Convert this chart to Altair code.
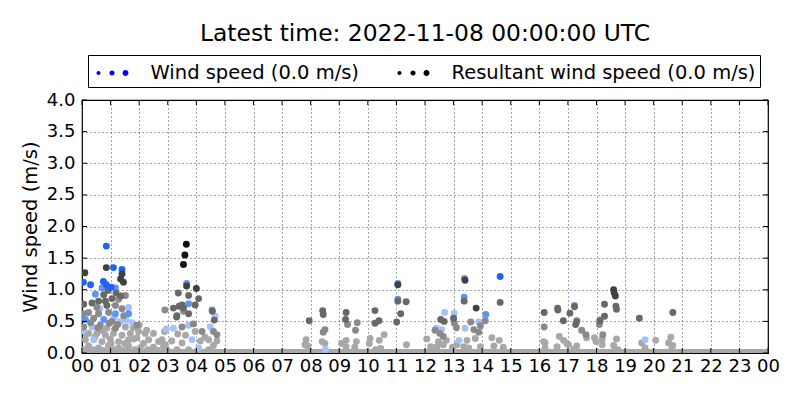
import altair as alt
import pandas as pd

# ---- data ----
pts = [
    # 00-05 h
    (0.85, 1.69, "b1"), (3.65, 1.72, "k1"), (3.60, 1.55, "k1"), (3.55, 1.40, "k1"),
    (0.10, 1.27, "k2"), (0.85, 1.35, "k2"), (1.10, 1.35, "b1"), (1.40, 1.32, "b1"),
    (1.40, 1.25, "k2"), (1.35, 1.17, "k2"), (1.45, 1.12, "k2"), (0.05, 1.12, "b1"),
    (0.30, 1.08, "b1"), (0.75, 1.13, "b1"), (0.85, 1.08, "b1"), (0.70, 1.03, "b2"),
    (1.02, 1.04, "b1"), (1.17, 1.03, "b2"), (0.91, 0.99, "k3"), (1.19, 0.95, "k3"),
    (1.36, 0.90, "k3"), (0.76, 0.92, "k3"), (0.47, 0.93, "b2"), (0.58, 0.82, "k3"),
    (0.82, 0.82, "k3"), (1.05, 0.86, "k3"), (1.28, 0.85, "k4"), (1.52, 0.91, "k4"),
    (0.06, 0.77, "k3"), (0.35, 0.79, "k3"), (0.52, 0.72, "k4"), (0.87, 0.75, "k3"),
    (1.17, 0.75, "k4"), (1.40, 0.70, "k4"), (1.63, 0.72, "b3"), (1.63, 0.62, "b2"),
    (0.23, 0.64, "k4"), (0.58, 0.62, "k4"), (0.93, 0.64, "k4"), (1.17, 0.62, "b2"),
    (1.46, 0.59, "k4"), (0.12, 0.53, "b2"), (0.41, 0.55, "k4"), (0.76, 0.53, "b2"),
    (1.05, 0.50, "k4"), (1.34, 0.50, "b3"), (1.75, 0.48, "b3"), (1.92, 0.44, "k4"),
    (0.06, 0.41, "k4"), (0.35, 0.41, "b3"), (0.64, 0.44, "k4"), (0.87, 0.39, "k5"),
    (1.17, 0.39, "k4"), (1.52, 0.41, "k5"),
    (0.23, 0.31, "k5"), (0.52, 0.31, "k5"), (0.82, 0.28, "k5"), (1.10, 0.31, "k5"),
    (1.40, 0.28, "k5"), (1.69, 0.31, "k5"), (1.98, 0.34, "k5"), (2.21, 0.31, "k5"),
    (2.50, 0.31, "k5"), (0.12, 0.21, "k5"), (0.70, 0.18, "k5"), (0.99, 0.22, "k5"),
    (1.28, 0.18, "k5"), (1.63, 0.21, "k5"), (1.92, 0.24, "k5"), (2.33, 0.21, "k5"),
    (2.68, 0.18, "k5"), (0.23, 0.11, "k5"), (0.58, 0.08, "k5"), (0.93, 0.12, "k5"),
    (1.28, 0.08, "k5"), (1.63, 0.11, "k5"), (2.04, 0.08, "k5"), (2.50, 0.09, "k5"),
    (2.85, 0.11, "k5"), (0.41, 0.21, "b3"), (2.00, 0.44, "k5"), (2.26, 0.36, "k5"),
    (1.79, 0.40, "k5"),
    (0.05, 0.62, "k4"), (0.30, 0.48, "k4"), (0.55, 0.40, "k4"), (0.95, 0.47, "k4"),
    (1.25, 0.45, "k4"), (0.15, 0.30, "k5"), (0.45, 0.25, "k5"), (0.72, 0.35, "k5"),
    (1.02, 0.15, "k5"), (1.50, 0.15, "k5"), (1.80, 0.22, "k5"), (2.15, 0.15, "k5"),
    (0.08, 0.05, "k5"), (0.40, 0.05, "k5"), (0.75, 0.04, "k5"), (1.10, 0.05, "k5"),
    (1.45, 0.04, "k5"), (1.85, 0.05, "k5"), (2.30, 0.05, "k5"), (2.65, 0.04, "k5"),
    (0.02, 0.35, "b3"), (0.62, 0.70, "b3"), (1.12, 0.56, "b3"), (1.55, 0.52, "b3"),
    (2.90, 0.68, "k4"), (3.20, 0.71, "k3"), (2.95, 0.38, "b3"), (3.31, 0.57, "k3"),
    (3.37, 0.95, "k3"), (3.55, 0.71, "k3"), (3.66, 1.10, "b2"), (3.66, 1.06, "k2"),
    (4.00, 1.02, "k2"), (3.73, 0.91, "k3"), (4.08, 0.86, "k3"), (3.50, 0.76, "k3"),
    (3.73, 0.78, "b2"), (3.96, 0.76, "k3"), (3.40, 0.74, "k3"), (3.32, 0.59, "k3"),
    (3.55, 0.66, "k4"), (3.73, 0.62, "k3"), (4.55, 0.68, "b2"), (4.56, 0.66, "k3"),
    (4.66, 0.58, "b3"), (4.63, 0.52, "k3"),
    (2.89, 0.34, "k5"), (3.20, 0.39, "b3"), (3.50, 0.41, "k4"), (3.73, 0.44, "b3"),
    (3.90, 0.46, "k4"), (3.96, 0.34, "k5"), (4.20, 0.34, "k4"), (4.49, 0.41, "b3"),
    (4.60, 0.34, "k4"), (4.72, 0.29, "k4"), (4.72, 0.19, "k5"), (4.43, 0.21, "k5"),
    (4.14, 0.19, "k5"), (3.85, 0.21, "b3"), (3.50, 0.16, "k5"), (3.14, 0.19, "k5"),
    (2.91, 0.13, "k5"), (2.97, 0.05, "k5"), (3.32, 0.05, "k5"), (3.73, 0.05, "k5"),
    (4.08, 0.08, "b3"), (4.43, 0.05, "k5"), (2.80, 0.21, "k5"),
    (3.35, 0.30, "k5"), (3.62, 0.28, "k5"), (4.30, 0.25, "k5"), (4.60, 0.12, "k5"),
    # 07-15 h
    (11.05, 1.10, "b2"), (11.05, 1.08, "k2"), (11.05, 0.85, "b2"), (11.05, 0.82, "k3"),
    (11.34, 0.81, "k3"), (11.15, 0.62, "k3"), (11.01, 0.49, "k3"), (10.25, 0.67, "k3"),
    (10.39, 0.51, "k3"), (10.25, 0.47, "k3"), (7.95, 0.51, "k3"), (8.42, 0.67, "k3"),
    (8.44, 0.61, "k3"), (8.50, 0.37, "k4"), (8.44, 0.33, "k4"), (8.40, 0.18, "k5"),
    (8.50, 0.15, "k5"), (8.52, 0.05, "b3"), (7.84, 0.21, "k5"), (7.80, 0.13, "k5"),
    (7.90, 0.11, "k5"), (9.24, 0.64, "k3"), (9.22, 0.53, "k3"), (9.29, 0.45, "k4"),
    (9.63, 0.48, "k4"), (9.57, 0.36, "k4"), (9.24, 0.20, "k5"), (9.08, 0.15, "k5"),
    (9.60, 0.18, "k5"), (9.54, 0.09, "k5"), (9.24, 0.10, "k5"), (10.08, 0.23, "k5"),
    (10.05, 0.15, "k5"), (10.40, 0.20, "k5"), (10.57, 0.29, "k5"), (10.45, 0.07, "k5"),
    (10.27, 0.05, "k5"), (11.35, 0.13, "k5"), (12.06, 0.22, "k5"), (12.20, 0.10, "k5"),
    (12.42, 0.10, "k5"), (12.35, 0.36, "k4"), (12.40, 0.39, "b3"), (12.58, 0.37, "b3"),
    (12.52, 0.31, "k4"), (12.64, 0.26, "k4"), (12.75, 0.20, "k5"), (12.64, 0.13, "k5"),
    (12.47, 0.18, "k5"), (12.55, 0.53, "k3"), (12.67, 0.50, "k3"), (12.69, 0.64, "b3"),
    (13.02, 0.63, "b3"), (13.00, 0.55, "k3"), (13.03, 0.47, "k4"), (13.10, 0.40, "k4"),
    (13.19, 0.20, "b3"), (13.12, 0.13, "k5"), (13.38, 1.18, "b2"), (13.40, 1.15, "k2"),
    (13.37, 0.88, "b2"), (13.37, 0.82, "k3"), (13.79, 0.71, "k2"), (13.40, 0.39, "b3"),
    (13.60, 0.49, "k4"), (13.71, 0.37, "k4"), (13.88, 0.49, "b3"), (13.94, 0.43, "k4"),
    (14.11, 0.51, "k4"), (14.13, 0.61, "b2"), (13.88, 0.33, "k4"), (13.76, 0.23, "k5"),
    (13.47, 0.20, "k5"), (13.53, 0.08, "k5"), (13.94, 0.10, "k5"), (13.36, 0.10, "k5"),
    (12.96, 0.09, "k5"), (14.63, 1.21, "b1"), (14.63, 0.80, "k3"), (14.34, 0.24, "k5"),
    (14.60, 0.20, "k5"), (14.41, 0.11, "k5"), (14.74, 0.09, "k5"),
    # 16-21 h
    (16.17, 0.64, "k3"), (16.17, 0.41, "k4"), (16.15, 0.18, "k5"), (16.20, 0.16, "k5"),
    (16.20, 0.08, "k5"), (16.64, 0.71, "k3"), (16.65, 0.68, "k3"), (16.84, 0.51, "k3"),
    (16.70, 0.26, "k5"), (16.85, 0.20, "k5"), (16.96, 0.15, "k5"), (16.62, 0.10, "k5"),
    (17.07, 0.63, "k3"), (17.23, 0.75, "b2"), (17.23, 0.73, "k3"), (17.31, 0.52, "b3"),
    (17.31, 0.50, "k3"), (17.27, 0.45, "k3"), (17.48, 0.36, "k4"), (17.63, 0.29, "k4"),
    (17.65, 0.24, "k5"), (17.31, 0.11, "k5"), (17.21, 0.06, "k5"), (17.02, 0.13, "k5"),
    (18.60, 1.00, "k2"), (18.62, 0.95, "k2"), (18.66, 0.90, "k2"), (18.68, 0.74, "k3"),
    (18.70, 0.69, "k3"), (18.28, 0.77, "k3"), (18.28, 0.58, "k3"), (18.12, 0.53, "b3"),
    (18.12, 0.51, "k3"), (18.10, 0.45, "k4"), (17.93, 0.24, "k5"), (18.22, 0.29, "k4"),
    (18.20, 0.22, "k5"), (18.20, 0.13, "k5"), (17.98, 0.18, "k5"), (18.70, 0.22, "k5"),
    (18.60, 0.12, "k5"), (18.75, 0.05, "k5"), (19.50, 0.55, "k3"), (19.70, 0.21, "b3"),
    (19.58, 0.16, "k5"), (19.70, 0.08, "k5"), (20.07, 0.20, "k5"), (20.67, 0.64, "k3"),
    (20.60, 0.25, "k5"), (20.52, 0.16, "k5"), (20.64, 0.08, "k5"), (20.67, 0.12, "k5"),
]
hours = [p[0] for p in pts]
speeds = [p[1] for p in pts]
shades = [p[2] for p in pts]

shade_names = ["k5", "b3", "k4", "b2", "k3", "b1", "k2", "k1"]
shade_colors = ["#a8a8a8", "#a4c2fa", "#8a8a8a", "#5b95f7", "#686868", "#1f62f5", "#404040", "#111111"]

calm_start = [0]
calm_end = [24]
calm_speed = [0]

series_names = ["Wind speed (0.0 m/s)", "Resultant wind speed (0.0 m/s)"]
series_colors = ["#0000ff", "#000000"]

hour_ticks = list(range(25))
speed_ticks = [0, 0.5, 1, 1.5, 2, 2.5, 3, 3.5, 4]

# ---- tables ----
df = pd.DataFrame({"hour": hours, "speed": speeds, "shade": shades})
cmap = dict(zip(shade_names, shade_colors))
df["color"] = df["shade"].map(cmap)
df["rank"] = df["shade"].map({s: i for i, s in enumerate(shade_names)})
df = df.sort_values("rank", kind="stable")

calm = pd.DataFrame({"start": calm_start, "end": calm_end, "speed": calm_speed})
leg = pd.DataFrame({"series": series_names, "hour": [0, 0], "speed": [0, 0]})
xt = pd.DataFrame({"hour": hour_ticks})
yt = pd.DataFrame({"speed": speed_ticks})

FONT = "DejaVu Sans"
W, H = 686, 253
xscale = alt.Scale(domain=[0, 24], nice=False, zero=False)
yscale = alt.Scale(domain=[0, 4], nice=False)
xaxis = alt.Axis(values=hour_ticks, title=None,
                 labelExpr="datum.value >= 24 ? '00' : (datum.value < 10 ? '0' + datum.value : '' + datum.value)",
                 labelPadding=4, labelOverlap=False, labelFlush=False, labelBound=False)
yaxis = alt.Axis(values=speed_ticks, format=".1f", title="Wind speed (m/s)", titleFontSize=19.5,
                 titleFont=FONT, titleFontWeight="normal", titleColor="black", titlePadding=6, labelPadding=7)
X = lambda f: alt.X(f, scale=xscale, axis=xaxis)
Y = lambda f: alt.Y(f, scale=yscale, axis=yaxis)

calm_layer = alt.Chart(calm).mark_rule(strokeWidth=8, color="#a8a8a8", clip=True).encode(
    x=X("start:Q"), x2="end:Q", y=Y("speed:Q"))

pts_layer = alt.Chart(df).mark_circle(size=48, opacity=1, clip=True).encode(
    x=X("hour:Q"), y=Y("speed:Q"),
    color=alt.Color("color:N", scale=None),
    order=alt.Order("rank:Q"))

# inward ticks on all four sides
tick_style = dict(color="black", strokeWidth=1)
xt_bottom = alt.Chart(xt).mark_rule(**tick_style).encode(x=X("hour:Q"), y=alt.value(H), y2=alt.value(H - 5))
xt_top = alt.Chart(xt).mark_rule(**tick_style).encode(x=X("hour:Q"), y=alt.value(0), y2=alt.value(5))
yt_left = alt.Chart(yt).mark_rule(**tick_style).encode(y=Y("speed:Q"), x=alt.value(0), x2=alt.value(5))
yt_right = alt.Chart(yt).mark_rule(**tick_style).encode(y=Y("speed:Q"), x=alt.value(W), x2=alt.value(W - 5))

dots = ("M-1.15,0 a0.15,0.15 0 1,0 0.3,0 a0.15,0.15 0 1,0 -0.3,0 Z "
        "M-0.19,0 a0.19,0.19 0 1,0 0.38,0 a0.19,0.19 0 1,0 -0.38,0 Z "
        "M0.78,0 a0.22,0.22 0 1,0 0.44,0 a0.22,0.22 0 1,0 -0.44,0 Z")

leg_layer = alt.Chart(leg).mark_point(filled=True, opacity=0, clip=True).encode(
    x=X("hour:Q"), y=Y("speed:Q"),
    color=alt.Color("series:N", scale=alt.Scale(domain=series_names, range=series_colors),
                    legend=alt.Legend(title=None, orient="none", legendX=6, legendY=-45,
                                      direction="horizontal", symbolType=dots, symbolSize=729,
                                      symbolStrokeWidth=0, symbolOpacity=1, symbolOffset=6,
                                      labelFont=FONT, labelFontSize=19.5, labelColor="black",
                                      labelLimit=600, labelOffset=25, padding=4.5, columnPadding=34,
                                      strokeColor="black", fillColor="white", cornerRadius=0)))

chart = alt.layer(calm_layer, pts_layer, xt_bottom, xt_top, yt_left, yt_right, leg_layer).resolve_scale(
    color="independent").properties(
    width=W, height=H,
    background="white",
    autosize=alt.AutoSizeParams(type="none"),
    padding={"left": 74, "top": 92, "right": 24, "bottom": 39},
    title=alt.TitleParams("Latest time: 2022-11-08 00:00:00 UTC", font=FONT, fontSize=23.4,
                          fontWeight="normal", color="black", anchor="middle", offset=8),
).configure_view(stroke="black", strokeWidth=1.2).configure_axis(
    grid=True, gridColor="black", gridDash=[1, 3], gridWidth=0.7, gridOpacity=1,
    domain=False, ticks=False, labelFont=FONT, labelFontSize=18, labelColor="black",
)

chart.save("out.html", embed_options={"renderer": "svg", "actions": False})
